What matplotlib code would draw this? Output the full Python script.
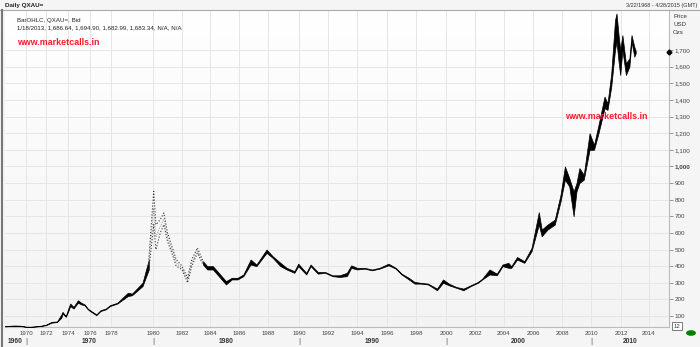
import matplotlib.pyplot as plt
import numpy as np
from matplotlib.scale import FuncScale

plt.rcParams["font.family"] = ["Liberation Sans", "DejaVu Sans"]

# Daily QXAU= gold price (date as fractional year, bar low / high in USD)
dates = [1968.22, 1968.5, 1969.0, 1969.5, 1970.0, 1970.5, 1971.0, 1971.5, 1972.0, 1972.5,
         1973.0, 1973.4, 1973.5, 1973.8, 1974.0, 1974.2, 1974.5, 1974.9, 1975.2, 1975.5,
         1975.8, 1976.0, 1976.6, 1977.0, 1977.5, 1977.9, 1978.3, 1978.8, 1979.0, 1979.5,
         1979.8, 1980.05, 1980.2, 1980.5, 1980.75, 1981.0, 1981.3, 1981.6, 1982.0, 1982.4,
         1982.7, 1983.1, 1983.5, 1983.8, 1984.2, 1984.6, 1985.1, 1985.5, 1985.9, 1986.3,
         1986.8, 1987.2, 1987.9, 1988.3, 1988.8, 1989.2, 1989.7, 1989.95, 1990.5, 1990.8,
         1991.3, 1991.8, 1992.3, 1992.8, 1993.3, 1993.6, 1994.0, 1994.5, 1995.0, 1995.5,
         1996.1, 1996.6, 1997.0, 1997.5, 1997.9, 1998.3, 1998.8, 1999.4, 1999.8, 2000.2,
         2000.7, 2001.2, 2001.7, 2002.2, 2002.5, 2003.0, 2003.5, 2003.9, 2004.3, 2004.5,
         2004.9, 2005.4, 2005.9, 2006.4, 2006.6, 2007.0, 2007.5, 2007.9, 2008.2, 2008.5,
         2008.8, 2009.0, 2009.2, 2009.5, 2009.9, 2010.2, 2010.5, 2010.9, 2011.1, 2011.35,
         2011.6, 2011.7, 2011.85, 2011.95, 2012.1, 2012.35, 2012.6, 2012.75, 2012.95, 2013.05]
lows = [38, 39, 41, 40, 35, 35, 37, 40, 45, 60,
        64, 90, 115, 95, 125, 160, 145, 180, 170, 165,
        140, 130, 105, 130, 140, 160, 175, 220, 225, 280,
        380, 650, 500, 600, 650, 550, 480, 400, 380, 300,
        400, 480, 410, 380, 380, 340, 290, 320, 320, 340,
        410, 400, 480, 450, 400, 380, 360, 400, 350, 400,
        355, 360, 340, 335, 340, 390, 380, 385, 375, 385,
        405, 385, 350, 320, 295, 295, 290, 255, 300, 285,
        270, 255, 280, 300, 320, 350, 345, 400, 390, 390,
        440, 420, 490, 650, 580, 620, 650, 790, 920, 880,
        700, 850, 900, 920, 1100, 1100, 1200, 1350, 1340, 1480,
        1700, 1750, 1620, 1550, 1700, 1550, 1600, 1750, 1660, 1680]
highs = [40, 41, 43, 42, 36, 36, 38, 42, 48, 65,
         67, 110, 125, 100, 140, 175, 155, 195, 180, 170,
         145, 135, 110, 135, 145, 165, 180, 240, 235, 300,
         440, 850, 650, 680, 720, 600, 520, 440, 400, 330,
         440, 510, 430, 400, 400, 360, 310, 330, 330, 350,
         440, 410, 500, 460, 420, 390, 370, 415, 360, 410,
         365, 365, 345, 345, 360, 405, 390, 390, 380, 390,
         415, 390, 355, 330, 305, 300, 295, 265, 320, 295,
         275, 265, 285, 305, 325, 380, 355, 410, 420, 400,
         455, 430, 510, 725, 620, 650, 680, 830, 1000, 930,
         850, 900, 990, 950, 1200, 1130, 1250, 1420, 1380, 1560,
         1880, 1920, 1780, 1700, 1790, 1620, 1650, 1790, 1720, 1695]

# stretch of the sparse, dotted-looking bars around the 1980 spike
sparse_start, sparse_end = 1979.8, 1983.5

year_ticks = list(range(1970, 2015, 2))
decades = [1960, 1970, 1980, 1990, 2000, 2010]
price_ticks = list(range(100, 1800, 100))
last_price = 1686.64

# the chart's time axis is trading-day based, so map years onto it piecewise
scale_years = [1968.22] + year_ticks + [2015.33]
scale_units = [5, 26, 46, 68, 90, 111, 153, 182, 210, 239, 268, 299, 328, 357, 387,
               416, 446, 475, 504, 533, 562, 591, 621, 649, 669]


def fwd(x):
    return np.interp(x, scale_years, scale_units)


def inv(u):
    return np.interp(u, scale_units, scale_years)


dates = np.array(dates)
lows = np.array(lows)
highs = np.array(highs)

fig = plt.figure(figsize=(7, 3.47), dpi=100)
fig.patch.set_facecolor("#f5f5f5")
ax = fig.add_axes([5 / 700, 1 - 327 / 347, 664 / 700, 317 / 347])
ax.set_xscale(FuncScale(ax, (fwd, inv)))
ax.set_xlim(1968.22, 2015.33)
ax.set_ylim(34, 1941)

# soft white-to-grey background of the plot area
grad = np.linspace(1.0, 0.955, 256).reshape(-1, 1)
ax.imshow(np.dstack([grad] * 3), extent=[0, 1, 0, 1], transform=ax.transAxes,
          aspect="auto", zorder=0)

ax.grid(True, color="#e6e6e6", linewidth=0.7, zorder=1)
ax.set_axisbelow(True)

dense1 = dates <= sparse_start
sparse = (dates >= sparse_start) & (dates <= sparse_end)
dense2 = dates >= sparse_end
for m in (dense1, dense2):
    ax.fill_between(dates[m], lows[m], highs[m], color="black", linewidth=0.5,
                    edgecolor="black", zorder=3)
ax.plot(dates[sparse], highs[sparse], color="#333333", linestyle=":", linewidth=0.8, zorder=3)
ax.plot(dates[sparse], lows[sparse], color="#333333", linestyle=":", linewidth=0.8, zorder=3)
ax.plot(dates[sparse], (lows[sparse] + highs[sparse]) / 2, color="#777777", linestyle=":",
        linewidth=0.6, zorder=3)

# axes look
for s in ["top", "left"]:
    ax.spines[s].set_visible(False)
ax.spines["bottom"].set_color("#bbbbbb")
ax.spines["right"].set_color("#bbbbbb")
ax.spines["bottom"].set_linewidth(0.8)
ax.spines["right"].set_linewidth(0.8)

ax.yaxis.tick_right()
ax.set_yticks(price_ticks, [f"{p:,}" for p in price_ticks])
ax.tick_params(axis="y", length=3, width=0.6, color="#888888", labelsize=4.5,
               labelcolor="#444444", pad=1)
for lab in ax.get_yticklabels():
    if lab.get_text() == "1,000":
        lab.set_fontweight("bold")

ax.set_xticks(year_ticks, [str(y) for y in year_ticks])
ax.tick_params(axis="x", length=0, labelsize=4.4, labelcolor="#444444", pad=3)

# decade labels and separators below the year labels
trans = ax.get_xaxis_transform()
x_lo, x_hi = ax.get_xlim()
for d in decades:
    a = max(d, x_lo)
    b = min(d + 10, x_hi)
    mid = inv((fwd(a) + fwd(b)) / 2)
    ax.text(mid, -0.047, str(d), transform=trans, ha="center", va="center",
            fontsize=4.8, fontweight="bold", color="#333333", clip_on=False)
    if d > x_lo:
        ax.text(d, -0.047, "|", transform=trans, ha="center", va="center",
                fontsize=6, color="#555555", clip_on=False)

# last price marker on the right axis
ax.plot([1], [last_price], marker="D", markersize=2.5, color="black",
        transform=ax.get_yaxis_transform(), clip_on=False, zorder=5)

# header texts
fig.text(5 / 700, 1 - 5 / 347, "Daily QXAU=", fontsize=4.5, fontweight="bold",
         color="#222222", va="center")
fig.text(697 / 700, 1 - 5 / 347, "3/22/1968 - 4/28/2015 (GMT)", fontsize=4.0,
         color="#333333", va="center", ha="right")
fig.add_artist(plt.Line2D([0, 1], [1 - 10 / 347] * 2, color="#aaaaaa", linewidth=0.8))
fig.add_artist(plt.Line2D([1.5 / 700] * 2, [1 - 10 / 347, 1 - 347 / 347], color="#777777",
                          linewidth=1.5))

ax.text(0.018, 0.968, "BarOHLC, QXAU=, Bid", transform=ax.transAxes, fontsize=4.4,
        color="#222222", va="center")
ax.text(0.018, 0.945, "1/18/2013, 1,686.64, 1,694.90, 1,682.99, 1,683.34, N/A, N/A",
        transform=ax.transAxes, fontsize=4.4, color="#222222", va="center")
ax.text(0.018, 0.898, "www.marketcalls.in", transform=ax.transAxes, fontsize=6.4,
        fontweight="bold", color="#ff1a2e", va="center")
ax.text(0.906, 0.665, "www.marketcalls.in", transform=ax.transAxes, fontsize=6.4,
        fontweight="bold", color="#ff1a2e", va="center", ha="center")

for i, t in enumerate(["Price", "USD", "Ozs"]):
    fig.text(673 / 700, 1 - (16 + 8 * i) / 347, t, fontsize=4.4, color="#333333", va="center")

fig.text(677 / 700, 1 - 326 / 347, "12", fontsize=4.4, color="#333333", va="center",
         ha="center", bbox=dict(boxstyle="square,pad=0.2", fc="white", ec="#666666", lw=0.6))
fig.add_artist(plt.Circle((691 / 700, 1 - 333 / 347), 0.006, color="green",
                          transform=fig.transFigure))

fig.savefig("out.png", dpi=100, facecolor=fig.get_facecolor())
